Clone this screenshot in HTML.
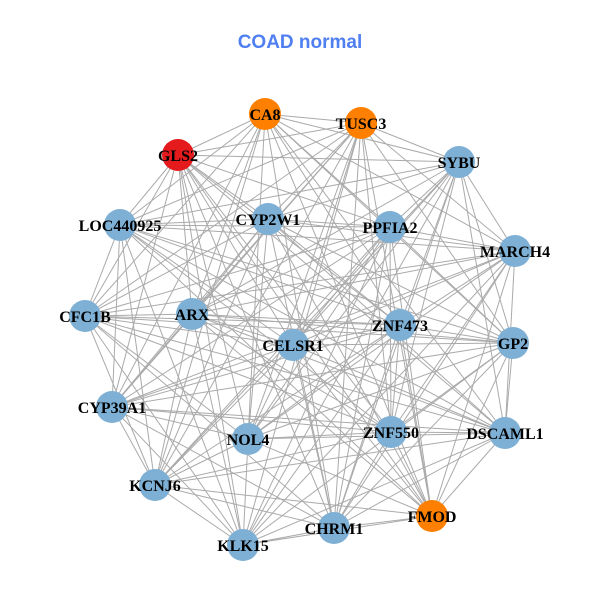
<!DOCTYPE html>
<html><head><meta charset="utf-8"><style>
html,body{margin:0;padding:0;background:#fff;width:600px;height:600px;overflow:hidden}
</style></head><body>
<svg id="g" width="600" height="600" xmlns="http://www.w3.org/2000/svg">
<rect width="600" height="600" fill="#fff"/>
<text x="300" y="48" text-anchor="middle" font-family="Liberation Sans, sans-serif" font-weight="bold" font-size="19" fill="#4f7ff0">COAD normal</text>
<g id="edges" stroke="#aaaaaa" stroke-width="1"></g>
<g id="nodes"></g>
<g id="labels" font-family="Liberation Serif, serif" font-weight="bold" font-size="16" text-anchor="middle" fill="#000">
<text x="265" y="120">CA8</text>
<text x="361" y="129">TUSC3</text>
<text x="178" y="161">GLS2</text>
<text x="459" y="168">SYBU</text>
<text x="120" y="231">LOC440925</text>
<text x="268" y="225">CYP2W1</text>
<text x="390" y="233">PPFIA2</text>
<text x="515" y="257">MARCH4</text>
<text x="85" y="322">CFC1B</text>
<text x="192" y="320">ARX</text>
<text x="293" y="351">CELSR1</text>
<text x="400" y="331">ZNF473</text>
<text x="513" y="349">GP2</text>
<text x="112" y="413">CYP39A1</text>
<text x="248" y="445">NOL4</text>
<text x="391" y="438">ZNF550</text>
<text x="505" y="439">DSCAML1</text>
<text x="155" y="491">KCNJ6</text>
<text x="432" y="522">FMOD</text>
<text x="334" y="534">CHRM1</text>
<text x="243" y="551">KLK15</text>
</g>
</svg>
<script>
var N=[[265,114,"#ff8000"],[361,123,"#ff8000"],[178,155,"#e41a1c"],[459,162],[120,225],[268,219],[390,227],[515,251],[85,316],[192,314],[293,345],[400,325],[513,343],[112,407],[248,439],[391,432],[505,433],[155,485],[432,516,"#ff8000"],[334,528],[243,545]];
var ns="http://www.w3.org/2000/svg",E=document.getElementById("edges"),V=document.getElementById("nodes");
for(var i=0;i<N.length;i++)for(var j=i+1;j<N.length;j++){
 if((i*7+j*3)%5==0)continue;
 var l=document.createElementNS(ns,"line");
 l.setAttribute("x1",N[i][0]);l.setAttribute("y1",N[i][1]);l.setAttribute("x2",N[j][0]);l.setAttribute("y2",N[j][1]);E.appendChild(l);}
N.forEach(function(n){var c=document.createElementNS(ns,"circle");c.setAttribute("cx",n[0]);c.setAttribute("cy",n[1]);c.setAttribute("r",16);c.setAttribute("fill",n[2]||"#7eb0d5");V.appendChild(c);});
</script>
</body></html>
